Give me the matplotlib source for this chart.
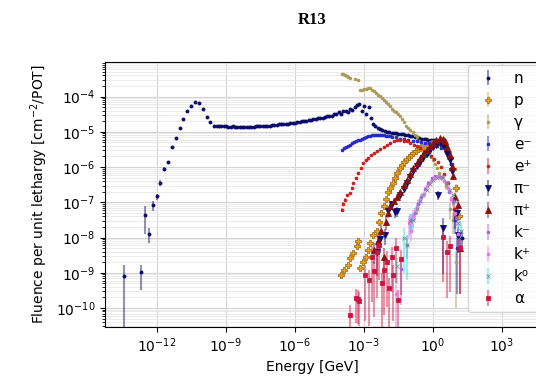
import numpy as np
import matplotlib
matplotlib.use('Agg')
import matplotlib.pyplot as plt
from matplotlib.ticker import NullLocator

# log10(E / GeV), log10(fluence), relative error
n_logE = [-13.43, -12.70, -12.52, -12.35, -12.19, -12.01, -11.86, -11.70, -11.52, -11.35,
          -11.17, -11.01, -10.86, -10.68, -10.52, -10.35, -10.19, -10.01, -9.84, -9.68, -9.51,
          -9.4, -9.3, -9.2, -9.1, -9.0, -8.9, -8.8, -8.7, -8.6, -8.5,
          -8.4, -8.3, -8.2, -8.1, -8.0, -7.9, -7.8, -7.7, -7.6, -7.5,
          -7.4, -7.3, -7.2, -7.1, -7.0, -6.9, -6.8, -6.7, -6.6, -6.5,
          -6.4, -6.3, -6.2, -6.1, -6.0, -5.9, -5.8, -5.7, -5.6, -5.5,
          -5.4, -5.3, -5.2, -5.1, -5.0, -4.9, -4.8, -4.7, -4.6, -4.5,
          -4.4, -4.3, -4.2, -4.1, -4.0, -3.9, -3.8, -3.7, -3.6, -3.5,
          -3.4, -3.3, -3.2, -3.1, -3.0, -2.9, -2.8, -2.7, -2.6, -2.5,
          -2.4, -2.3, -2.2, -2.1, -2.0, -1.9, -1.8, -1.7, -1.6, -1.5,
          -1.4, -1.3, -1.2, -1.1, -1.0, -0.9, -0.8, -0.7, -0.6, -0.5,
          -0.4, -0.3, -0.2, -0.1, 0.0, 0.1, 0.2, 0.3, 0.4, 0.5,
          0.6, 0.7, 0.8, 0.95, 1.1, 1.25]
n_logF = [-9.08, -8.99, -7.35, -7.90, -7.08, -6.83, -6.45, -6.05, -5.86, -5.43,
          -5.17, -4.90, -4.63, -4.42, -4.26, -4.16, -4.18, -4.35, -4.58, -4.71, -4.82,
          -4.83, -4.84, -4.84, -4.83, -4.84, -4.85, -4.85, -4.84, -4.85, -4.86,
          -4.85, -4.86, -4.86, -4.85, -4.86, -4.85, -4.85, -4.84, -4.84, -4.83,
          -4.84, -4.83, -4.82, -4.82, -4.81, -4.81, -4.80, -4.79, -4.79, -4.78,
          -4.77, -4.77, -4.76, -4.75, -4.74, -4.72, -4.71, -4.70, -4.69, -4.68,
          -4.66, -4.67, -4.64, -4.63, -4.62, -4.60, -4.61, -4.57, -4.56, -4.54,
          -4.56, -4.50, -4.49, -4.45, -4.50, -4.42, -4.40, -4.44, -4.36, -4.38,
          -4.30, -4.24, -4.22, -4.40, -4.28, -4.50, -4.30, -4.62, -4.78, -4.84,
          -4.90, -4.93, -4.96, -4.97, -4.99, -5.00, -5.02, -5.03, -5.04, -5.05,
          -5.06, -5.07, -5.08, -5.09, -5.11, -5.13, -5.15, -5.16, -5.18, -5.19,
          -5.20, -5.21, -5.22, -5.22, -5.23, -5.24, -5.27, -5.31, -5.36, -5.43,
          -5.52, -5.66, -5.90, -7.45, -7.95, -8.00]
n_err = [0.97, 0.68, 0.71, 0.45, 0.30, 0.20, 0.20, 0.10, 0.08, 0.05,
         0.05, 0.04, 0.03, 0.03, 0.03, 0.02, 0.02, 0.02, 0.02, 0.02, 0.02,
         0.02, 0.02, 0.02, 0.02, 0.02, 0.02, 0.02, 0.02, 0.02, 0.02,
         0.02, 0.02, 0.02, 0.02, 0.02, 0.02, 0.02, 0.02, 0.02, 0.02,
         0.02, 0.02, 0.02, 0.02, 0.02, 0.02, 0.02, 0.02, 0.02, 0.02,
         0.02, 0.02, 0.02, 0.02, 0.02, 0.02, 0.02, 0.02, 0.02, 0.02,
         0.02, 0.02, 0.02, 0.02, 0.02, 0.02, 0.02, 0.02, 0.02, 0.02,
         0.03, 0.03, 0.03, 0.03, 0.03, 0.03, 0.03, 0.04, 0.04, 0.04,
         0.05, 0.05, 0.05, 0.06, 0.05, 0.06, 0.05, 0.05, 0.04, 0.03,
         0.02, 0.02, 0.02, 0.02, 0.02, 0.02, 0.02, 0.02, 0.02, 0.02,
         0.02, 0.02, 0.02, 0.02, 0.02, 0.02, 0.02, 0.02, 0.02, 0.02,
         0.02, 0.02, 0.02, 0.02, 0.02, 0.02, 0.02, 0.02, 0.02, 0.03,
         0.03, 0.04, 0.06, 0.50, 0.60, 0.60]

p_logE = [-4.00, -3.86, -3.71, -3.61, -3.46, -3.32, -3.25,
          -3.17, -3.03, -2.92, -2.81, -2.74, -2.59,
          -2.45, -2.35, -2.25, -2.15, -2.05, -1.95, -1.85, -1.75, -1.65, -1.55,
          -1.45, -1.35, -1.25, -1.15, -1.05, -0.95, -0.85, -0.75, -0.65, -0.55,
          -0.45, -0.35, -0.25, -0.15, -0.05, 0.05, 0.15, 0.25, 0.35, 0.45,
          0.55, 0.65, 0.75, 0.85, 1.0, 1.15]
p_logF = [-9.06, -8.91, -8.77, -8.58, -8.44, -8.25, -8.09,
          -8.87, -8.68, -8.54, -8.35, -8.16, -7.92,
          -7.80, -7.55, -7.30, -7.10, -6.90, -6.72, -6.58, -6.45, -6.32, -6.18,
          -6.02, -5.93, -5.85, -5.78, -5.72, -5.66, -5.60, -5.55, -5.50, -5.46,
          -5.42, -5.39, -5.36, -5.34, -5.32, -5.31, -5.30, -5.30, -5.31, -5.35,
          -5.45, -5.58, -5.75, -6.05, -6.60, -7.40]
p_err = [0.12, 0.12, 0.10, 0.10, 0.10, 0.10, 0.10,
         0.15, 0.12, 0.10, 0.10, 0.08, 0.08,
         0.06, 0.05, 0.05, 0.04, 0.04, 0.03, 0.03, 0.03, 0.03, 0.03,
         0.03, 0.03, 0.03, 0.03, 0.03, 0.03, 0.03, 0.03, 0.03, 0.03,
         0.03, 0.03, 0.03, 0.03, 0.03, 0.03, 0.03, 0.03, 0.03, 0.03,
         0.03, 0.04, 0.05, 0.08, 0.30, 0.50]

g_logE = [-3.97, -3.90, -3.83, -3.76, -3.69, -3.62, -3.40, -3.25,
          -3.17, -3.08, -2.99, -2.90, -2.82, -2.74,
          -2.65, -2.56, -2.47, -2.38, -2.30, -2.21, -2.12, -2.04, -1.95, -1.87,
          -1.78, -1.70, -1.61, -1.52, -1.43, -1.34, -1.25, -1.16, -1.07, -0.98,
          -0.89, -0.80, -0.71, -0.62, -0.53, -0.44, -0.35, -0.26, -0.17, -0.08,
          0.01, 0.10, 0.19, 0.28, 0.55, 0.75, 0.85, 1.00]
g_logF = [-3.35, -3.37, -3.39, -3.41, -3.44, -3.46, -3.50, -3.52,
          -3.80, -3.80, -3.79, -3.78, -3.76, -3.75,
          -3.80, -3.85, -3.89, -3.94, -3.99, -4.04, -4.10, -4.16, -4.22, -4.28,
          -4.34, -4.40, -4.45, -4.50, -4.56, -4.63, -4.72, -4.82, -4.90, -4.95,
          -5.00, -5.08, -5.16, -5.25, -5.33, -5.40, -5.48, -5.56, -5.64, -5.72,
          -5.81, -5.92, -6.03, -6.18, -6.55, -7.20, -7.50, -8.70]
g_err = [0.02, 0.02, 0.02, 0.02, 0.02, 0.02, 0.02, 0.02,
         0.02, 0.02, 0.02, 0.02, 0.02, 0.02,
         0.02, 0.02, 0.02, 0.02, 0.02, 0.02, 0.02, 0.02, 0.02, 0.02,
         0.02, 0.02, 0.02, 0.02, 0.02, 0.02, 0.02, 0.02, 0.02, 0.02,
         0.02, 0.02, 0.02, 0.02, 0.02, 0.02, 0.02, 0.02, 0.02, 0.02,
         0.03, 0.03, 0.04, 0.05, 0.20, 0.50, 0.60, 0.95]

em_logE = [-3.97, -3.88, -3.79, -3.70, -3.61, -3.52, -3.43, -3.34, -3.25, -3.17,
           -3.08, -2.99, -2.90, -2.82, -2.74, -2.65, -2.56, -2.47, -2.38, -2.30,
           -2.21, -2.12, -2.04, -1.95, -1.87, -1.78,
           -1.61, -1.43, -1.25, -1.07, -0.89, -0.71, -0.53, -0.35, -0.17, 0.01,
           0.19, 0.37, 0.55, 0.70, 0.82, 0.95, 1.05]
em_logF = [-5.51, -5.47, -5.43, -5.40, -5.36, -5.33, -5.30, -5.27, -5.24, -5.22,
           -5.20, -5.17, -5.15, -5.13, -5.11, -5.10, -5.09, -5.08, -5.08, -5.08,
           -5.09, -5.10, -5.11, -5.12, -5.13, -5.14,
           -5.16, -5.19, -5.21, -5.23, -5.25, -5.27, -5.29, -5.31, -5.33, -5.36,
           -5.40, -5.46, -5.55, -5.70, -5.92, -7.50, -8.30]
em_err = [0.03, 0.03, 0.03, 0.03, 0.03, 0.03, 0.03, 0.03, 0.03, 0.03,
          0.03, 0.03, 0.03, 0.03, 0.03, 0.03, 0.03, 0.03, 0.03, 0.03,
          0.03, 0.03, 0.03, 0.03, 0.03, 0.03,
          0.03, 0.03, 0.03, 0.03, 0.03, 0.03, 0.03, 0.03, 0.03, 0.03,
          0.03, 0.04, 0.05, 0.06, 0.10, 0.60, 0.95]

ep_logE = [-3.97, -3.90, -3.83, -3.72, -3.61, -3.54, -3.47, -3.36, -3.25, -3.15,
           -3.04, -2.93, -2.82, -2.70, -2.57, -2.43, -2.30, -2.15, -2.00, -1.85,
           -1.70, -1.57, -1.43, -1.28, -1.13, -0.98, -0.84, -0.70, -0.55, -0.40,
           -0.25, -0.10, 0.05, 0.20, 0.35, 0.50, 0.65, 0.90]
ep_logF = [-7.21, -7.05, -6.93, -6.80, -6.73, -6.58, -6.45, -6.30, -6.17, -6.02,
           -5.88, -5.80, -5.73, -5.66, -5.60, -5.55, -5.49, -5.42, -5.36, -5.31,
           -5.27, -5.24, -5.24, -5.25, -5.27, -5.31, -5.36, -5.41, -5.47, -5.53,
           -5.60, -5.68, -5.76, -5.86, -6.00, -6.20, -6.45, -7.20]
ep_err = [0.15, 0.12, 0.10, 0.08, 0.07, 0.06, 0.05, 0.05, 0.04, 0.04,
          0.03, 0.03, 0.03, 0.03, 0.03, 0.03, 0.03, 0.03, 0.03, 0.03,
          0.03, 0.03, 0.03, 0.03, 0.03, 0.03, 0.03, 0.03, 0.03, 0.03,
          0.03, 0.03, 0.03, 0.04, 0.05, 0.08, 0.12, 0.40]

pim_logE = [-2.45, -2.30, -2.10, -1.95, -1.80, -1.65, -1.57, -1.43, -1.28, -1.14,
            -1.00, -0.86, -0.71, -0.57, -0.42, -0.27, -0.13, 0.00, 0.15, 0.30,
            0.42, 0.52, 0.63, 0.74, 0.81, 0.23, 0.45, 1.03, 1.10]
pim_logF = [-8.40, -8.05, -7.92, -7.26, -7.05, -7.28, -7.26, -6.80, -6.62, -6.45,
            -6.28, -6.12, -5.98, -5.85, -5.74, -5.62, -5.52, -5.43, -5.36, -5.32,
            -5.38, -5.46, -5.62, -5.80, -6.10, -6.78, -7.73, -7.31, -7.92]
pim_err = [0.80, 0.60, 0.50, 0.30, 0.25, 0.30, 0.30, 0.15, 0.10, 0.08,
           0.06, 0.05, 0.04, 0.03, 0.03, 0.03, 0.03, 0.03, 0.03, 0.03,
           0.03, 0.03, 0.04, 0.05, 0.08, 0.30, 0.95, 0.40, 0.70]

pip_logE = [-2.55, -2.40, -2.25, -2.15, -2.05, -1.95, -1.85, -1.70, -1.57,
            -1.43, -1.28, -1.14, -1.00, -0.86, -0.71, -0.57, -0.42, -0.27, -0.13,
            0.00, 0.15, 0.30, 0.42, 0.52, 0.63, 0.74, 0.81, 0.88, 0.95,
            1.10, 1.17]
pip_logF = [-8.35, -8.10, -7.80, -8.55, -7.55, -7.30, -7.10, -6.95, -6.85,
            -6.70, -6.50, -6.38, -6.20, -6.03, -5.88, -5.74, -5.62, -5.51, -5.41,
            -5.32, -5.24, -5.18, -5.20, -5.27, -5.42, -5.65, -6.00, -6.25, -6.85,
            -7.07, -8.30]
pip_err = [0.60, 0.50, 0.50, 0.80, 0.40, 0.30, 0.30, 0.20, 0.20,
           0.15, 0.10, 0.10, 0.06, 0.05, 0.04, 0.03, 0.03, 0.03, 0.03,
           0.03, 0.03, 0.03, 0.03, 0.03, 0.04, 0.05, 0.08, 0.15, 0.30,
           0.40, 0.95]

km_logE = [-1.40, -1.15, -0.95, -0.80, -0.65, -0.50, -0.35, -0.20, -0.05, 0.10,
           0.25, 0.40, 0.55, 0.70, 0.85, 1.00]
km_logF = [-8.90, -8.20, -7.50, -7.30, -7.05, -6.85, -6.62, -6.45, -6.32, -6.25,
           -6.24, -6.28, -6.45, -6.70, -7.00, -7.45]
km_err = [0.90, 0.60, 0.50, 0.40, 0.30, 0.20, 0.15, 0.10, 0.08, 0.06,
          0.06, 0.08, 0.10, 0.15, 0.20, 0.40]

kp_logE = [-1.60, -1.05, -0.95, -0.85, -0.70, -0.55, -0.40, -0.25, -0.10, 0.05,
           0.20, 0.35, 0.50, 0.65, 0.80, 0.95, 1.10]
kp_logF = [-9.60, -7.60, -7.80, -7.40, -7.15, -6.95, -6.75, -6.55, -6.40, -6.30,
           -6.26, -6.30, -6.40, -6.60, -6.90, -7.30, -7.90]
kp_err = [0.95, 0.60, 0.50, 0.50, 0.35, 0.25, 0.20, 0.12, 0.08, 0.06,
          0.06, 0.07, 0.10, 0.15, 0.20, 0.40, 0.60]

k0_logE = [-1.55, -1.25, -1.14, -1.00, -0.86, -0.71, -0.57, -0.43, -0.27, -0.13,
           0.00, 0.16, 0.30, 0.45, 0.59, 0.74, 0.85, 0.96, 1.10, 1.20]
k0_logF = [-8.80, -8.00, -8.20, -7.54, -7.49, -7.20, -6.97, -6.80, -6.64, -6.48,
           -6.38, -6.31, -6.29, -6.31, -6.45, -6.64, -6.80, -6.95, -7.60, -7.80]
k0_err = [0.70, 0.90, 0.90, 0.60, 0.50, 0.30, 0.20, 0.15, 0.10, 0.08,
          0.06, 0.05, 0.05, 0.06, 0.08, 0.10, 0.15, 0.20, 0.50, 0.70]

a_logE = [-3.61, -3.36, -3.28, -3.20, -2.96, -2.80, -2.67, -2.55, -2.45, -2.35,
          -2.23, -2.11, -2.01, -1.91, -1.80, -1.72, -1.60, -1.51, -1.38,
          0.45, 0.62, 0.74, 1.17]
a_logF = [-10.19, -9.72, -9.74, -9.80, -9.06, -9.20, -8.54, -8.96, -8.40, -8.20,
          -9.29, -8.91, -8.68, -9.43, -8.55, -9.06, -8.30, -9.77, -8.62,
          -7.97, -8.40, -8.25, -8.30]
a_err = [0.85, 0.80, 0.80, 0.80, 0.95, 0.95, 0.95, 0.95, 0.95, 0.90,
         0.95, 0.95, 0.95, 0.95, 0.90, 0.95, 0.90, 0.95, 0.90,
         0.95, 0.95, 0.95, 0.95]

series = [
    ('n', n_logE, n_logF, n_err, 'o', '#0b0b6b', 2.2),
    ('p', p_logE, p_logF, p_err, 'P', '#eea020', 4.0),
    ('γ', g_logE, g_logF, g_err, 'o', '#a99b55', 1.9),
    ('e⁻', em_logE, em_logF, em_err, 'o', '#2626cc', 2.0),
    ('e⁺', ep_logE, ep_logF, ep_err, 'o', '#cc1c1c', 2.0),
    ('π⁻', pim_logE, pim_logF, pim_err, 'v', '#0c0c72', 3.8),
    ('π⁺', pip_logE, pip_logF, pip_err, '^', '#8a1010', 3.8),
    ('k⁻', km_logE, km_logF, km_err, 'o', '#b060dd', 2.0),
    ('k⁺', kp_logE, kp_logF, kp_err, 'o', '#f070ee', 2.0),
    ('k⁰', k0_logE, k0_logF, k0_err, 'x', '#28dede', 3.2),
    ('α', a_logE, a_logF, a_err, 's', '#cc1444', 3.3),
]

fig = plt.figure(figsize=(5.36, 3.78), dpi=100)
ax = fig.add_axes([105 / 536, 51 / 378, 460 / 536, 265 / 378])

for label, le, lf, rel, mk, col, ms in series:
    E = 10.0 ** np.array(le)
    F = 10.0 ** np.array(lf)
    mec = col
    if label == 'p':
        mec = '#a8701a'
    if label == 'k⁰':
        mec = '#7a9090'
    eb = ax.errorbar(E, F, yerr=np.array(rel) * F, fmt=mk, color=col, ms=ms,
                     mec=mec, mew=0.6, elinewidth=1.5, capsize=0, label=label)
    eb[2][0].set_alpha(0.45)

ax.set_xscale('log')
ax.set_yscale('log')
ax.set_xlim(10 ** -14.26, 10 ** 5.74)
ax.set_ylim(2.9e-11, 9.6e-4)
ax.set_xticks([1e-12, 1e-9, 1e-6, 1e-3, 1e0, 1e3])
ax.xaxis.set_minor_locator(NullLocator())
ax.grid(True, which='major', color='#d4d4d4', lw=0.8)
ax.grid(True, which='minor', axis='y', color='#e8e8e8', lw=0.6)
ax.set_axisbelow(True)

ax.set_xlabel('Energy [GeV]', fontsize=10)
ax.xaxis.set_label_coords((312 - 105) / 460, -0.125)
ax.set_ylabel('Fluence per unit lethargy [cm$^{-2}$/POT]', fontsize=10)

fig.text(312 / 536, 1 - 20 / 378, 'R13', ha='center', va='center',
         fontsize=12, fontweight='bold', family='Liberation Serif')

ax.legend(loc='upper left', bbox_to_anchor=(468 / 536, 1 - 65 / 378),
          bbox_transform=fig.transFigure, borderaxespad=0, fontsize=11,
          handlelength=1.8, handletextpad=0.8, labelspacing=0.46)

fig.savefig('out.png', dpi=100)
